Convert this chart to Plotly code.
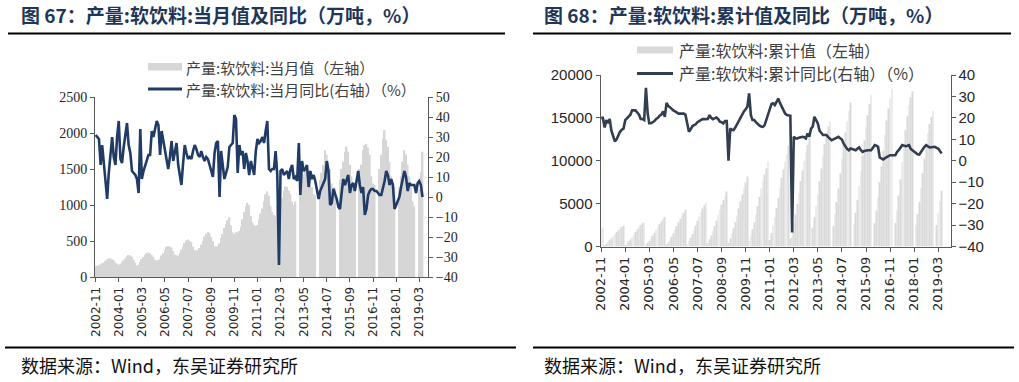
import pandas as pd
import plotly.graph_objects as go

W, H = 1019, 382

# ---------------- data ----------------
months = pd.date_range("2002-11-01", "2019-05-01", freq="MS")

# 产量:软饮料:当月值 (万吨), Jan..Dec per year
mv2002 = [150, 160]
mv2003 = [160, 175, 190, 200, 225, 240, 255, 260, 245, 235, 200, 185]
mv2004 = [165, 180, 210, 230, 260, 290, 305, 300, 280, 240, 200, 160]
mv2005 = [170, 210, 250, 280, 310, 330, 340, 330, 305, 280, 240, 230]
mv2006 = [235, 250, 300, 330, 370, 420, 430, 420, 410, 360, 310, 300]
mv2007 = [300, 330, 380, 420, 470, 510, 520, 500, 485, 420, 375, 370]
mv2008 = [380, 400, 450, 500, 560, 600, 625, 610, 555, 500, 430, 420]
mv2009 = [430, 465, 540, 600, 680, 735, 790, 830, 720, 620, 600, 620]
mv2010 = [620, 640, 700, 800, 900, 990, 1030, 1000, 850, 760, 720, 710]
mv2011 = [720, 800, 880, 950, 1050, 1150, 1190, 1130, 990, 900, 860, 850]
mv2012 = [980, 560, 1050, 1100, 1200, 1260, 1250, 1200, 1150, 1050, 1000, 1050]
mv2013 = [None, None, 1200, 1300, 1420, 1500, 1520, 1480, 1420, 1250, 1150, 1130]
mv2014 = [None, None, 1350, 1450, 1560, 1760, 1700, 1600, 1500, 1300, 1250, 1240]
mv2015 = [None, None, 1350, 1500, 1600, 1740, 1810, 1740, 1560, 1400, 1300, 1280]
mv2016 = [None, None, 1500, 1560, 1760, 1830, 1850, 1800, 1700, 1400, 1300, 1280]
mv2017 = [None, None, 1500, 1700, 1926, 2040, 1900, 1810, 1600, 1400, 1300, 1250]
mv2018 = [None, None, 1250, 1400, 1600, 1760, 1700, 1560, 1400, 1300, 1050, 980]
mv2019 = [None, None, 1220, 1460, 1740]
monthly_value = (mv2002 + mv2003 + mv2004 + mv2005 + mv2006 + mv2007 + mv2008 + mv2009
                 + mv2010 + mv2011 + mv2012 + mv2013 + mv2014 + mv2015 + mv2016 + mv2017
                 + mv2018 + mv2019)

# 产量:软饮料:当月同比 (%)
monthly_yoy = [
    31, 30, 29, 16, 26, 17, 8, -1, 12, 22, 30, 20, 16, 30, 38, 19, 17, 25, 30, 37,
    26, 22, 13, 12, 11, 9, 2, 34, 9, 13, 16, 19, 21, 21, 33, 30, 35, 38, 36, 21,
    33, 28, 23, 18, 14, 20, 28, 18, 22, 27, 16, 11, 6, 17, 26, 22, 19, 20, 19, 23,
    26, 24, 21, 20, 23, 20, 18, 20, 19, 16, 13, 10, 22, 27, 28, 0, 23, 17, 9, 12,
    15, 25, 26, 27, 41, 39, 12, 26, 21, 23, 14, 22, 18, 11, 18, 15, 11, 23, 29, 27,
    28, 30, 27, 33, 38, 14, 13, 14, 14, 23, 11, -34, 13, 14, 11, 12, 13, 9, 14, 16,
    9, 10, 8, 27, 1, 18, 13, 14, 16, 5, 13, 9, 11, 8, 4, -1, 3, 5, 7, 9,
    18, 13, -4, -3, 4, 2, -1, -5, -6, 2, 9, 6, 8, 11, 2, 6, 7, 3, 8, 13,
    6, 2, 5, -9, -6, 1, 3, 4, 4, 3, 3, 2, 1, 1, 4, 8, 13, 11, 6, 9,
    6, -6, -4, -2, 0, 5, 9, 13, 10, 3, 7, 6, 6, 6, 2, 7, 8, 6, 0,
]

# 产量:软饮料:累计值 (万吨), Jan..Dec per year
cv2002 = [2050, 2200]
cv2003 = [160, 330, 520, 720, 930, 1160, 1410, 1660, 1890, 2100, 2270, 2420]
cv2004 = [170, 350, 570, 810, 1080, 1380, 1690, 2000, 2280, 2520, 2700, 2850]
cv2005 = [180, 400, 660, 950, 1270, 1610, 1960, 2300, 2620, 2920, 3200, 3450]
cv2006 = [240, 500, 810, 1150, 1530, 1960, 2400, 2830, 3250, 3620, 3950, 4250]
cv2007 = [300, 640, 1030, 1460, 1940, 2460, 2990, 3500, 3990, 4420, 4800, 5150]
cv2008 = [390, 810, 1280, 1800, 2380, 3000, 3650, 4290, 4880, 5420, 5920, 6400]
cv2009 = [440, 920, 1490, 2120, 2830, 3600, 4430, 5290, 6060, 6770, 7460, 8150]
cv2010 = [640, 1290, 2000, 2810, 3720, 4720, 5760, 6770, 7630, 8400, 9130, 9950]
cv2011 = [760, 1580, 2470, 3430, 4490, 5650, 6850, 7990, 8990, 9900, 10800, 11760]
cv2012 = [920, 1060, 2740, 3800, 4970, 6270, 7600, 8870, 9990, 10960, 11860, 12700]
cv2013 = [None, 2200, 3400, 4700, 6100, 7600, 9100, 10600, 11950, 13100, 14000, 14600]
cv2014 = [None, 2400, 3750, 5200, 6750, 8500, 10200, 11800, 13300, 14600, 15800, 16800]
cv2015 = [None, 2600, 3950, 5450, 7050, 8800, 10600, 12350, 13900, 15300, 16600, 17700]
cv2016 = [None, 2700, 4200, 5750, 7500, 9350, 11200, 13000, 14700, 16100, 17300, 18400]
cv2017 = [None, 2750, 4250, 5950, 7850, 9900, 11800, 13600, 15200, 16500, 17400, 18100]
cv2018 = [None, 2550, 3800, 5200, 6800, 8550, 10250, 11800, 13200, 14300, 15100, 15800]
cv2019 = [None, 2500, 3950, 5300, 6500]
cum_value = (cv2002 + cv2003 + cv2004 + cv2005 + cv2006 + cv2007 + cv2008 + cv2009
             + cv2010 + cv2011 + cv2012 + cv2013 + cv2014 + cv2015 + cv2016 + cv2017
             + cv2018 + cv2019)

# 产量:软饮料:累计同比 (%)
cum_yoy = [
    20, 20, 15.5, 19, 17.5, 19.5, 14, 11, 9, 10, 12, 13.5, 14.5, 15, 19, 20, 21, 21.5, 23.5, 23.5,
    23.5, 22.5, 21.5, 19.5, 19.5, 19, 34, 22, 17.5, 17.5, 18, 18.5, 19.5, 20, 21, 21.5, 23, 20.5, 27, 25.5,
    25, 24, 23.5, 23, 22.5, 22, 22, 22, 22, 21.5, 17, 13.5, 14.5, 16, 16.6, 17, 18, 18.5, 19, 19.4,
    19.4, 19.4, 19.5, 21.3, 20, 19.4, 20, 20.2, 19.5, 18.2, 18, 17.4, 18.5, 18.5, 0, 15, 14.5, 14.3, 15.5, 17,
    19, 20.5, 22, 23, 24, 25.2, 31.4, 21.3, 19, 19, 18, 17, 16.5, 16, 15.8, 16.5, 19, 21, 23, 26.5,
    26.8, 26, 27.5, 29, 27, 25.2, 23, 22, 21.3, 21.3, 21, -33.5, 11.2, 10.5, 10.4, 10.7, 11, 11.2, 11, 10.4,
    12.7, 11.2, 15, 16, 20.5, 18.5, 17.4, 14, 13, 12, 12, 12, 11, 10.4, 9.6, 10, 10.4, 10.8, 11.2, 10.5,
    9.9, 8, 6.5, 5.5, 4.9, 5.7, 5.5, 5, 4.9, 5.6, 6.2, 5, 4.1, 4.5, 4.9, 4.9, 4.9, 4.9, 6, 7.3,
    7, 6.5, 1.5, 1, 0.6, 1.2, 1.8, 2.2, 2.6, 2.6, 2.6, 2.6, 4, 4.9, 6, 7.3, 7, 6.8, 7, 7.3,
    5.5, 4.9, 4, 3.4, 3, 2.9, 4, 5.7, 6.5, 7.3, 6.8, 6.2, 6.3, 6.5, 6.5, 6, 5.7, 4.5, 3.4,
]

tick_labels = ["2002-11", "2004-01", "2005-03", "2006-05", "2007-07", "2008-09", "2009-11",
               "2011-01", "2012-03", "2013-05", "2014-07", "2015-09", "2016-11", "2018-01", "2019-03"]
tick_vals = [t + "-01" for t in tick_labels]

# ---------------- styling ----------------
BAR_L = "#d6d6d6"
BAR_R = "#d9d9d9"
LINE_L = "#1f3b66"
LINE_R = "#323e4f"
AX = "#595959"
TXT = "#262626"
CJK = "Noto Sans CJK SC"
DAY = 86400000


def px(x):
    return x / W


def py(y):
    return 1 - y / H


fig = go.Figure()
fig.add_trace(go.Bar(x=months, y=monthly_value, marker=dict(color=BAR_L, line=dict(width=0)),
                     width=31 * DAY, xaxis="x", yaxis="y", showlegend=False, hoverinfo="skip"))
fig.add_trace(go.Scatter(x=months, y=monthly_yoy, mode="lines", line=dict(color=LINE_L, width=2.6),
                         xaxis="x", yaxis="y2", showlegend=False, hoverinfo="skip"))
fig.add_trace(go.Bar(x=months, y=cum_value, marker=dict(color=BAR_R, line=dict(width=0)),
                     width=11 * DAY, xaxis="x2", yaxis="y3", showlegend=False, hoverinfo="skip"))
fig.add_trace(go.Scatter(x=months, y=cum_yoy, mode="lines", line=dict(color=LINE_R, width=2.6),
                         xaxis="x2", yaxis="y4", showlegend=False, hoverinfo="skip"))

xcommon = dict(type="date", tickvals=tick_vals, ticktext=tick_labels, tickangle=-90,
               ticks="outside", ticklen=4, tickcolor=AX, showline=True, linecolor=AX, linewidth=1,
               showgrid=False, zeroline=False)
ycommon = dict(ticks="outside", ticklen=4, tickcolor=AX, showline=True, linecolor=AX, linewidth=1,
               showgrid=False, zeroline=False)

fig.update_layout(
    width=W, height=H, margin=dict(l=0, r=0, t=0, b=0, autoexpand=False),
    paper_bgcolor="white", plot_bgcolor="white", barmode="overlay", showlegend=False,
    xaxis=dict(xcommon, domain=[px(95), px(428)], anchor="y",
               range=["2002-10-20", "2019-08-10"],
               tickfont=dict(family="DejaVu Sans", size=12, color=TXT)),
    yaxis=dict(ycommon, domain=[py(277), py(97)], anchor="x", range=[0, 2500], dtick=500,
               tickfont=dict(family="Liberation Serif", size=14, color=TXT)),
    yaxis2=dict(ycommon, overlaying="y", side="right", anchor="x", range=[-40, 50], dtick=10,
                tickfont=dict(family="Liberation Serif", size=14, color=TXT)),
    xaxis2=dict(xcommon, domain=[px(600.5), px(950.5)], anchor="y3",
                range=["2002-10-20", "2019-10-05"],
                tickfont=dict(family="DejaVu Sans", size=13, color=TXT)),
    yaxis3=dict(ycommon, domain=[py(246.5), py(75)], anchor="x2", range=[0, 20000], dtick=5000,
                tickformat="d",
                tickfont=dict(family="Liberation Sans", size=15, color=TXT)),
    yaxis4=dict(ycommon, overlaying="y3", side="right", anchor="x2", range=[-40, 40], dtick=10,
                tickfont=dict(family="Liberation Sans", size=15, color=TXT)),
)

shapes = []
annotations = []


def hline(x0, x1, y, w, color="black"):
    shapes.append(dict(type="line", xref="paper", yref="paper", x0=px(x0), x1=px(x1),
                       y0=py(y), y1=py(y), line=dict(color=color, width=w)))


def text(x, y, s, size, color, xanchor="left", bold=False, family=CJK):
    if bold:
        s = "<b>" + s + "</b>"
    annotations.append(dict(xref="paper", yref="paper", x=px(x), y=py(y), text=s, showarrow=False,
                            xanchor=xanchor, yanchor="middle", borderpad=0,
                            font=dict(family=family, size=size, color=color)))


# titles and rules
TITLE_C = "#1f3659"
text(20, 15, "图 67：产量:软饮料:当月值及同比（万吨，%）", 19, TITLE_C, bold=True)
text(543, 15, "图 68：产量:软饮料:累计值及同比（万吨，%）", 19, TITLE_C, bold=True)
hline(8, 505, 33.5, 2.2)
hline(533, 1011, 33.5, 2.2)
hline(5, 516, 347.5, 2.2)
hline(533, 1014, 347.5, 2.2)
text(20, 365, "数据来源：Wind，东吴证券研究所", 18, "#111111")
text(543, 365, "数据来源：Wind，东吴证券研究所", 18, "#111111")

# legend - left chart
shapes.append(dict(type="rect", xref="paper", yref="paper", x0=px(148), x1=px(182),
                   y0=py(70.5), y1=py(63), fillcolor=BAR_L, line=dict(width=0)))
text(185, 67, "产量:软饮料:当月值（左轴）", 15, "#404040")
hline(148, 182, 89, 3, LINE_L)
text(185, 89, "产量:软饮料:当月同比(右轴）（%）", 15, "#404040")

# legend - right chart
shapes.append(dict(type="rect", xref="paper", yref="paper", x0=px(637), x1=px(673),
                   y0=py(53.5), y1=py(46.5), fillcolor=BAR_R, line=dict(width=0)))
text(678, 50, "产量:软饮料:累计值（左轴）", 16, "#404040")
hline(637, 673, 73.5, 3, LINE_R)
text(678, 73, "产量:软饮料:累计同比(右轴）（%）", 16, "#404040")

fig.update_layout(shapes=shapes, annotations=annotations)
fig.write_html("out.html", config={"displayModeBar": False},
               post_script="document.body.style.margin='0';document.body.style.overflow='hidden';")
